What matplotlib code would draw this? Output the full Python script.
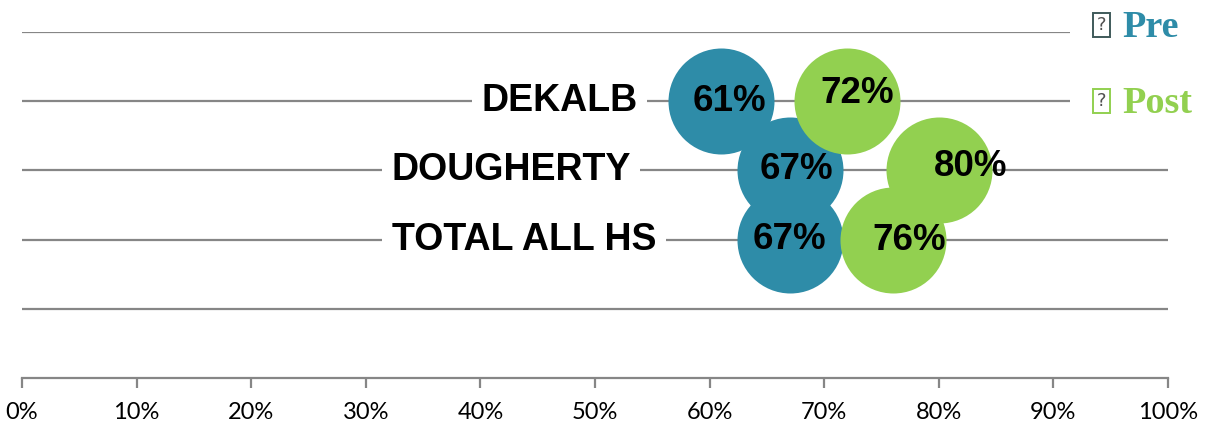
import matplotlib
matplotlib.use("Agg")
import matplotlib.pyplot as plt
from matplotlib.patches import Rectangle

# ---- data ----
categories = ["DEKALB", "DOUGHERTY", "TOTAL ALL HS"]
pre_values = [61, 67, 67]
post_values = [72, 80, 76]
series_names = ["Pre", "Post"]
x_ticks = [0, 10, 20, 30, 40, 50, 60, 70, 80, 90, 100]
x_tick_labels = [f"{t}%" for t in x_ticks]

# ---- layout / style (not data) ----
cat_y = [4, 3, 2]
cat_label_x = [46.9, 42.7, 43.8]
pre_label_off = [(8, 0), (7, 1), (0, 0)]      # pixels (x, y up)
post_label_off = [(10, 8), (32, 4), (16, -1)]
TEAL = "#2E8CA8"
GREEN = "#92D050"
GRID = "#868686"

W, H = 1209, 423
fig = plt.figure(figsize=(W / 100, H / 100), dpi=100)
ax = fig.add_axes([22 / W, (H - 378) / H, (1168 - 22) / W, (378 - 32) / H])
ax.set_xlim(0, 100)
ax.set_ylim(0, 5)

ax.set_yticks([1, 2, 3, 4, 5])
ax.yaxis.grid(True, color=GRID, lw=1.6, zorder=0)
ax.set_axisbelow(True)
ax.tick_params(axis="y", left=False, labelleft=False)
for s in ["left", "right", "top"]:
    ax.spines[s].set_visible(False)
ax.spines["bottom"].set_color(GRID)
ax.spines["bottom"].set_linewidth(1.6)
ax.set_xticks(x_ticks)
ax.set_xticklabels(x_tick_labels, fontfamily="Lato", fontsize=17, color="black")
ax.tick_params(axis="x", direction="out", length=7, width=1.6, color=GRID, pad=10)

# category labels with white boxes covering gridlines
for lbl, x, y in zip(categories, cat_label_x, cat_y):
    ax.text(x, y, lbl, ha="center", va="center", fontfamily="Liberation Sans",
            fontweight="bold", fontsize=27, color="black", zorder=2,
            bbox=dict(boxstyle="square,pad=0.25", fc="white", ec="none"))

size = (106 * 0.72) ** 2
ax.scatter(pre_values, cat_y, s=size, color=TEAL, linewidths=0, zorder=3, clip_on=False)
ax.scatter(post_values, cat_y, s=size, color=GREEN, linewidths=0, zorder=4, clip_on=False)

for vals, offs in ((pre_values, pre_label_off), (post_values, post_label_off)):
    for v, y, (dx, dy) in zip(vals, cat_y, offs):
        ax.annotate(f"{v}%", (v, y), xytext=(dx, dy), textcoords="offset pixels",
                    ha="center", va="center", fontfamily="Liberation Sans",
                    fontweight="bold", fontsize=26.5, color="black", zorder=6)

# legend (manual) with white background
fig.add_artist(Rectangle((1070 / W, 1 - 130 / H), 1 - 1070 / W, 130 / H,
                         transform=fig.transFigure, fc="white", ec="none", zorder=10))
legend_y = [37, 113]
legend_box_colors = ["#3F5A5A", GREEN]
legend_text_colors = [TEAL, GREEN]
for name, yb, bc, tc in zip(series_names, legend_y, legend_box_colors, legend_text_colors):
    fig.add_artist(Rectangle((1093 / W, 1 - yb / H), 17 / W, 24 / H,
                             transform=fig.transFigure, fc="none", ec=bc, lw=1.4, zorder=11))
    fig.text(1101.5 / W, 1 - (yb - 12) / H, "?", ha="center", va="center",
             fontfamily="DejaVu Sans", fontsize=13, color="#505050", zorder=12)
    fig.text(1122 / W, 1 - yb / H, name, ha="left", va="baseline",
             fontfamily="Liberation Serif", fontweight="bold", fontsize=27.5,
             color=tc, zorder=12)

fig.savefig("out.png", dpi=100)
